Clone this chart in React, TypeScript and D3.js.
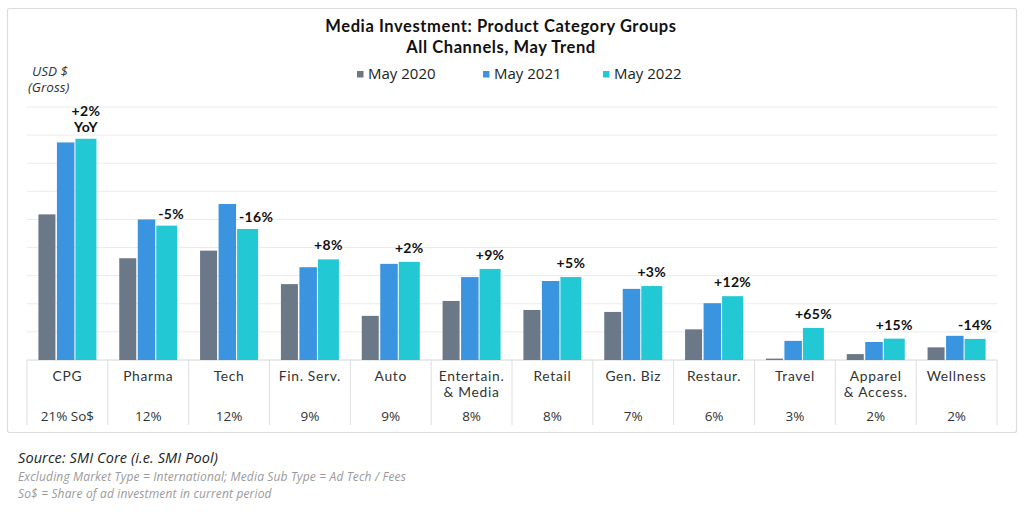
import React from "react";
import * as d3 from "d3";

const categories = ["CPG", "Pharma", "Tech", "Fin. Serv.", "Auto", "Entertain.\n& Media", "Retail", "Gen. Biz", "Restaur.", "Travel", "Apparel\n& Access.", "Wellness"];
const shares = ["21% So$", "12%", "12%", "9%", "9%", "8%", "8%", "7%", "6%", "3%", "2%", "2%"];
const seriesNames = ["May 2020", "May 2021", "May 2022"];
const may2020 = [5.18, 3.62, 3.89, 2.70, 1.57, 2.10, 1.78, 1.71, 1.09, 0.05, 0.21, 0.45];
const may2021 = [7.74, 5.00, 5.55, 3.30, 3.42, 2.95, 2.81, 2.53, 2.02, 0.68, 0.64, 0.86];
const may2022 = [7.87, 4.78, 4.66, 3.58, 3.49, 3.24, 2.95, 2.63, 2.27, 1.14, 0.76, 0.75];
const yoyLabels = ["+2%", "-5%", "-16%", "+8%", "+2%", "+9%", "+5%", "+3%", "+12%", "+65%", "+15%", "-14%"];
const gridTicks = [0, 1, 2, 3, 4, 5, 6, 7, 8, 9];

const colors = ["#6b7888", "#3b94e0", "#22c8d4"];
const FONT = "'Open Sans', Lato, sans-serif";
const BOLD = "Lato, 'Open Sans', sans-serif";

export default function App() {
  const W = 1024, H = 512;
  const left = 27, right = 997, base = 360, top = 107;
  const x = d3.scaleBand<string>().domain(categories).range([left, right]).padding(0);
  const y = d3.scaleLinear().domain([0, 9]).range([base, top]);
  const series = [may2020, may2021, may2022];
  const offs = [0, 18.5, 37];
  const widths = [17, 17.5, 21];
  const groupW = 58;
  const bw = x.bandwidth();

  return (
    <svg width={W} height={H} style={{ position: "absolute", left: 0, top: 0, fontFamily: FONT }}>
      <rect x={0} y={0} width={W} height={H} fill="#fff" />
      <rect x={7.5} y={8.5} width={1009} height={424} fill="#fff" stroke="#dcdcdc" strokeWidth={1.2} rx={2} />
      <text x={501} y={32} textAnchor="middle" fontSize={16.5} fontWeight={700} fill="#111" fontFamily={BOLD} letterSpacing={0.6}>Media Investment: Product Category Groups</text>
      <text x={501} y={53} textAnchor="middle" fontSize={16.5} fontWeight={700} fill="#111" fontFamily={BOLD} letterSpacing={0.6}>All Channels, May Trend</text>
      {seriesNames.map((s, i) => {
        const lx = [357, 483, 603][i];
        return (
          <g key={s}>
            <rect x={lx} y={71} width={6.5} height={6.5} fill={colors[i]} />
            <text x={lx + 11} y={79} fontSize={15} fill="#222">{s}</text>
          </g>
        );
      })}
      <text x={32} y={76} fontSize={13.5} fontStyle="italic" fill="#333">USD $</text>
      <text x={28} y={92} fontSize={13.5} fontStyle="italic" fill="#333">(Gross)</text>
      {gridTicks.map((t) => (
        <line key={t} x1={left} x2={right} y1={y(t)} y2={y(t)} stroke={t === 0 ? "#d6d6d6" : "#ebebeb"} strokeWidth={1} />
      ))}
      {categories.map((c, ci) => {
        const gx = (x(c) as number) + bw / 2 - groupW / 2;
        return (
          <g key={c}>
            {series.map((s, si) => (
              <rect key={si} x={gx + offs[si]} y={y(s[ci])} width={widths[si]} height={base - y(s[ci])} fill={colors[si]} />
            ))}
          </g>
        );
      })}
      {categories.map((c, ci) => {
        const gx = (x(c) as number) + bw / 2 - groupW / 2;
        const tTop = y(may2022[ci]);
        const bTop = y(may2021[ci]);
        const shift = bTop < tTop - 5;
        const tx = shift ? gx + offs[2] + 2 : gx + offs[2] + widths[2] / 2;
        const anchor = shift ? "start" : "middle";
        if (ci === 0) {
          return (
            <text key={c} x={tx} y={tTop - 23} textAnchor={anchor} fontSize={14} fontWeight={700} fill="#111" fontFamily={BOLD} letterSpacing={0.3}>
              <tspan x={tx}>{yoyLabels[ci]}</tspan>
              <tspan x={tx} dy={16}>YoY</tspan>
            </text>
          );
        }
        return (
          <text key={c} x={tx} y={tTop - (shift ? 7 : 9)} textAnchor={anchor} fontSize={14} fontWeight={700} fill="#111" fontFamily={BOLD} letterSpacing={0.3}>{yoyLabels[ci]}</text>
        );
      })}
      {d3.range(categories.length + 1).map((i) => {
        const xx = left + i * bw;
        return <line key={i} x1={xx} x2={xx} y1={base} y2={425} stroke="#dedede" strokeWidth={1} />;
      })}
      {categories.map((c, ci) => {
        const cx = (x(c) as number) + bw / 2;
        const lines = c.split("\n");
        return (
          <g key={c}>
            <text x={cx} y={380.5} textAnchor="middle" fontSize={13.8} fill="#333" letterSpacing={0.7} fontFamily={BOLD}>
              {lines.map((l, li) => (
                <tspan key={li} x={cx} dy={li === 0 ? 0 : 16.6}>{l}</tspan>
              ))}
            </text>
            <text x={cx} y={421} textAnchor="middle" fontSize={13.5} fill="#333">{shares[ci]}</text>
          </g>
        );
      })}
      <text x={18} y={463} fontSize={14.5} fontStyle="italic" fill="#222" letterSpacing={0.1}>Source: SMI Core (i.e. SMI Pool)</text>
      <text x={18} y={481} fontSize={12} fontStyle="italic" fill="#9a9a9a" letterSpacing={0.15}>Excluding Market Type = International; Media Sub Type = Ad Tech / Fees</text>
      <text x={18} y={498} fontSize={12} fontStyle="italic" fill="#9a9a9a" letterSpacing={0.15}>So$ = Share of ad investment in current period</text>
    </svg>
  );
}
